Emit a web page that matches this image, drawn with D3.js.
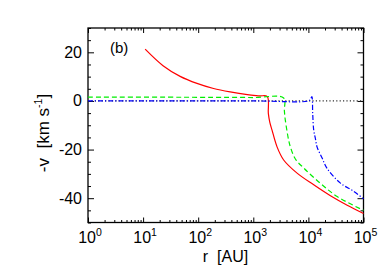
<!DOCTYPE html>
<html>
<head>
<meta charset="utf-8">
<script src="https://cdn.jsdelivr.net/npm/d3@7"></script>
<style>
  body { margin: 0; background: #fff; }
  text { font-family: "Liberation Sans", Arial, sans-serif; fill: #000; white-space: pre; }
</style>
</head>
<body>
<div id="chart"></div>
<script>
// r in AU, -v in km/s
var redR = [10.9, 23, 47, 95, 190, 380, 780, 1300, 1797, 1874, 1995, 2188, 2698, 3556, 6230, 12480, 25120, 50560, 100000]
var redV = [21.3, 14.5, 10.1, 7.2, 5.1, 3.7, 2.6, 2.1, 1.8, -5.1, -8.8, -12, -18.9, -24.3, -29.7, -34.5, -39.0, -42.9, -46.3]

var greenR = [1, 100, 1000, 3556, 3662, 3818, 4385, 4708, 5802, 8214, 16520, 33240, 100000]
var greenV = [1.6, 1.5, 1.4, 1.2, -4, -8, -16.2, -18.9, -23.9, -27.6, -33.9, -39.3, -45]

var blueR = [1, 1000, 10000, 10900, 11580, 11970, 12490, 13400, 14390, 17740, 21880, 38180, 66680, 100000]
var blueV = [0, 0, 0, 0.7, 1.8, -5.2, -12, -15.5, -19, -23.5, -27.8, -33.8, -37.2, -40.2]

var zeroR = [1, 100000]
var zeroV = [0, 0]

var xMajor = [1, 10, 100, 1000, 10000, 100000]
var xExp = ['0', '1', '2', '3', '4', '5']
var yMajor = [-40, -20, 0, 20]
var yMinor = [-50, -45, -35, -30, -25, -15, -10, -5, 5, 10, 15, 25, 30]

var width = 390
var height = 279
var x0 = 88, x1 = 363.5, y0 = 28, y1 = 222.5

var x = d3.scaleLog().domain([1, 1e5]).range([x0, x1])
var y = d3.scaleLinear().domain([-50, 30]).range([y1, y0])

var xMinor = []
xMajor.slice(0, -1).forEach(function (d) {
  for (var k = 2; k < 10; k++) xMinor.push(d * k)
})

var svg = d3.select('#chart').append('svg')
      .attr('width', width)
      .attr('height', height)

function axisGroup (axis, tx, ty) {
  var g = svg.append('g')
        .attr('transform', 'translate(' + tx + ',' + ty + ')')
        .call(axis)
  g.select('.domain').remove()
  g.selectAll('line').attr('stroke', '#000')
  return g
}

axisGroup(d3.axisBottom(x).tickValues(xMajor).tickSizeInner(-5).tickSizeOuter(0).tickFormat(''), 0, y1)
axisGroup(d3.axisBottom(x).tickValues(xMinor).tickSizeInner(-2.5).tickSizeOuter(0).tickFormat(''), 0, y1)
axisGroup(d3.axisTop(x).tickValues(xMajor).tickSizeInner(-5).tickSizeOuter(0).tickFormat(''), 0, y0)
axisGroup(d3.axisTop(x).tickValues(xMinor).tickSizeInner(-2.5).tickSizeOuter(0).tickFormat(''), 0, y0)
axisGroup(d3.axisLeft(y).tickValues(yMajor).tickSizeInner(-6).tickSizeOuter(0).tickFormat(''), x0, 0)
axisGroup(d3.axisLeft(y).tickValues(yMinor).tickSizeInner(-3).tickSizeOuter(0).tickFormat(''), x0, 0)
axisGroup(d3.axisRight(y).tickValues(yMajor).tickSizeInner(-6).tickSizeOuter(0).tickFormat(''), x1, 0)
axisGroup(d3.axisRight(y).tickValues(yMinor).tickSizeInner(-3).tickSizeOuter(0).tickFormat(''), x1, 0)

svg.append('rect')
      .attr('x', x0).attr('y', y0)
      .attr('width', x1 - x0).attr('height', y1 - y0)
      .attr('fill', 'none').attr('stroke', '#000').attr('stroke-width', 1.3)

// tick labels
var xl = svg.append('g').selectAll('text').data(xMajor).enter().append('text')
      .attr('x', function (d) { return x(d) + 2 })
      .attr('y', 243)
      .attr('text-anchor', 'middle')
      .style('font-size', '16px')
xl.append('tspan').text('10')
xl.append('tspan').attr('dy', -7).style('font-size', '10.5px').text(function (d, i) { return xExp[i] })

svg.append('g').selectAll('text').data(yMajor).enter().append('text')
      .attr('x', 82)
      .attr('y', function (d) { return y(d) + 5.5 })
      .attr('text-anchor', 'end')
      .style('font-size', '16px')
      .text(function (d) { return d })

var line = d3.line().curve(d3.curveCatmullRom.alpha(0.5))
function pts (rs, vs) { return rs.map(function (r, i) { return [x(r), y(vs[i])] }) }

var plot = svg.append('g')
plot.append('path').attr('d', line(pts(zeroR, zeroV)))
      .attr('fill', 'none').attr('stroke', '#333').attr('stroke-width', 1.2).attr('stroke-dasharray', '1.2,2.2')
plot.append('path').attr('d', line(pts(redR, redV)))
      .attr('fill', 'none').attr('stroke', '#ff0000').attr('stroke-width', 1.2)
plot.append('path').attr('d', line(pts(greenR, greenV)))
      .attr('fill', 'none').attr('stroke', '#00ee00').attr('stroke-width', 1.2).attr('stroke-dasharray', '5,3')
plot.append('path').attr('d', line(pts(blueR, blueV)))
      .attr('fill', 'none').attr('stroke', '#0000ff').attr('stroke-width', 1.2).attr('stroke-dasharray', '5,2,1.2,2')

svg.append('text').attr('x', 110).attr('y', 53).style('font-size', '15px').text('(b)')

svg.append('text').attr('x', 225.5).attr('y', 262).attr('text-anchor', 'middle')
      .style('font-size', '16px').text('r  [AU]')

var yl = svg.append('text')
      .attr('transform', 'translate(49,' + 133 + ') rotate(-90)')
      .attr('text-anchor', 'middle')
      .style('font-size', '17px')
yl.append('tspan').text('-v  [km s')
yl.append('tspan').attr('dy', -7).style('font-size', '10.5px').text('-1')
yl.append('tspan').attr('dy', 7).text(']')
</script>
</body>
</html>
